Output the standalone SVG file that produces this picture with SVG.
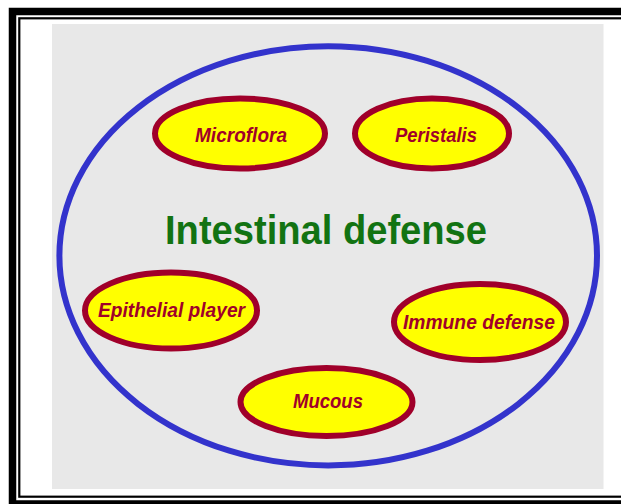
<svg xmlns="http://www.w3.org/2000/svg" width="621" height="504" viewBox="0 0 621 504">
  <style>
    .frame { fill: none; stroke: #000000; }
    .node-shape { fill: #ffff00; stroke: #a0002a; stroke-width: 6; }
    .node-label { font-family: "Liberation Sans", Arial, sans-serif; font-weight: bold; font-style: italic; font-size: 20px; fill: #a0002a; text-anchor: middle; }
    .title { font-family: "Liberation Sans", Arial, sans-serif; font-weight: bold; font-size: 40px; fill: #127312; text-anchor: middle; }
  </style>

  <!-- page background and double frame -->
  <rect x="0" y="0" width="621" height="504" fill="#ffffff"/>
  <rect class="frame" x="12.5" y="11.5" width="620" height="492.5" stroke-width="7.5"/>
  <rect class="frame" x="19.3" y="18.3" width="620" height="478.4" stroke-width="2.2"/>

  <!-- grey panel -->
  <rect x="52" y="24" width="551.5" height="465" fill="#e8e8e8"/>

  <!-- enclosing boundary -->
  <g id="boundary">
    <ellipse cx="328.2" cy="255.8" rx="268.8" ry="209.6" fill="none" stroke="#3333cc" stroke-width="6"/>
  </g>

  <g id="title">
    <text class="title" x="326" y="243.5" textLength="322" lengthAdjust="spacingAndGlyphs">Intestinal defense</text>
  </g>

  <g id="microflora">
    <ellipse class="node-shape" cx="240" cy="133.5" rx="85" ry="35"/>
    <text class="node-label" x="241" y="141.5" textLength="92" lengthAdjust="spacingAndGlyphs">Microflora</text>
  </g>

  <g id="peristalis">
    <ellipse class="node-shape" cx="432" cy="133.5" rx="77" ry="35"/>
    <text class="node-label" x="436" y="141.5" textLength="82" lengthAdjust="spacingAndGlyphs">Peristalis</text>
  </g>

  <g id="epithelial-player">
    <ellipse class="node-shape" cx="171" cy="310.5" rx="86" ry="38"/>
    <text class="node-label" x="171.5" y="317" textLength="147" lengthAdjust="spacingAndGlyphs">Epithelial player</text>
  </g>

  <g id="immune-defense">
    <ellipse class="node-shape" cx="480" cy="322" rx="86" ry="38"/>
    <text class="node-label" x="479" y="328.5" textLength="152" lengthAdjust="spacingAndGlyphs">Immune defense</text>
  </g>

  <g id="mucous">
    <ellipse class="node-shape" cx="326.5" cy="402" rx="86" ry="34"/>
    <text class="node-label" x="328" y="407.5" textLength="70" lengthAdjust="spacingAndGlyphs">Mucous</text>
  </g>

  <!-- no connectors in this diagram -->
  <g id="connectors"/>
</svg>
